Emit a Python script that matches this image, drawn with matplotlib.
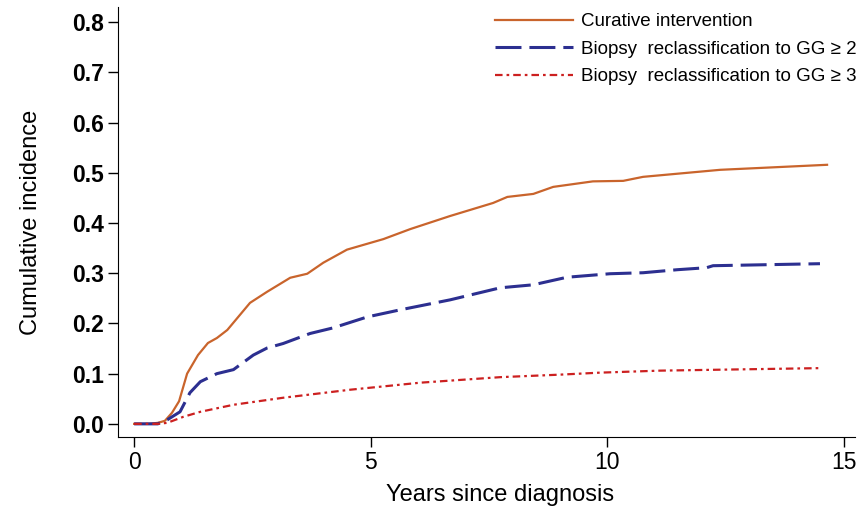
import matplotlib
matplotlib.use("Agg")
import matplotlib.pyplot as plt

plt.rcParams["font.family"] = ["Liberation Sans", "DejaVu Sans"]

# years since diagnosis / cumulative incidence
cur_x = [0, 0.3, 0.5, 0.65, 0.8, 0.95, 1.12, 1.35, 1.56, 1.75, 1.97, 2.45, 2.81, 3.3,
         3.66, 4.0, 4.5, 5.27, 5.84, 6.68, 7.59, 7.89, 8.44, 8.86, 9.7, 10.34, 10.76,
         12.39, 14.65]
cur_y = [0, 0.0, 0.002, 0.006, 0.022, 0.045, 0.10, 0.137, 0.161, 0.171, 0.187, 0.241,
         0.263, 0.291, 0.299, 0.321, 0.347, 0.368, 0.388, 0.414, 0.44, 0.452, 0.458,
         0.472, 0.483, 0.484, 0.492, 0.506, 0.516]

gg2_x = [0, 0.5, 0.7, 0.97, 1.18, 1.4, 1.75, 2.1, 2.52, 2.81, 3.15, 3.72, 4.2, 4.93,
         5.62, 6.68, 7.74, 8.44, 9.15, 10.06, 10.76, 11.48, 12.1, 12.24, 14.5]
gg2_y = [0, 0.0, 0.008, 0.024, 0.062, 0.084, 0.10, 0.108, 0.137, 0.151, 0.16, 0.18,
         0.191, 0.213, 0.227, 0.247, 0.271, 0.277, 0.292, 0.299, 0.301, 0.307, 0.311,
         0.315, 0.319]

gg3_x = [0, 0.5, 0.7, 1.04, 1.4, 2.1, 3.15, 4.57, 6.05, 7.74, 9.0, 9.85, 11.12, 14.5]
gg3_y = [0, 0.0, 0.002, 0.014, 0.024, 0.038, 0.052, 0.068, 0.082, 0.093, 0.098, 0.102,
         0.106, 0.111]

labels = ["Curative intervention",
          "Biopsy  reclassification to GG \u2265 2",
          "Biopsy  reclassification to GG \u2265 3"]

fig = plt.figure(figsize=(8.68, 5.11), dpi=100)
ax = fig.add_axes([0.136, 0.145, 0.849, 0.841])

ax.plot(cur_x, cur_y, color="#c9642c", lw=1.6, label=labels[0])
ax.plot(gg2_x, gg2_y, color="#2c2f90", lw=2.2, dashes=(8.5, 2.6), label=labels[1])
ax.plot(gg3_x, gg3_y, color="#cc2020", lw=1.6, dashes=(3.4, 1.8, 1.2, 1.8),
        label=labels[2])

ax.set_xlim(-0.34, 15.24)
ax.set_ylim(-0.026, 0.83)
ax.set_xticks([0, 5, 10, 15])
ax.set_yticks([0.0, 0.1, 0.2, 0.3, 0.4, 0.5, 0.6, 0.7, 0.8])
ax.set_yticklabels([f"{v:.1f}" for v in ax.get_yticks()], fontweight="bold")
ax.tick_params(axis="both", direction="out", length=7, width=1, labelsize=16.5)
ax.tick_params(axis="y", pad=3)
ax.spines["top"].set_visible(False)
ax.spines["right"].set_visible(False)

ax.set_xlabel("Years since diagnosis", fontsize=17)
ax.xaxis.set_label_coords(0.518, -0.136, transform=ax.transAxes)
ax.xaxis.label.set_va("center")
ax.set_ylabel("Cumulative incidence", fontsize=17, labelpad=22)

leg = ax.legend(loc="upper right", frameon=False, fontsize=13.5, handlelength=4.2,
                handletextpad=0.4, labelspacing=0.55,
                bbox_to_anchor=(1.025, 1.025))

fig.savefig("out.png", dpi=100)
